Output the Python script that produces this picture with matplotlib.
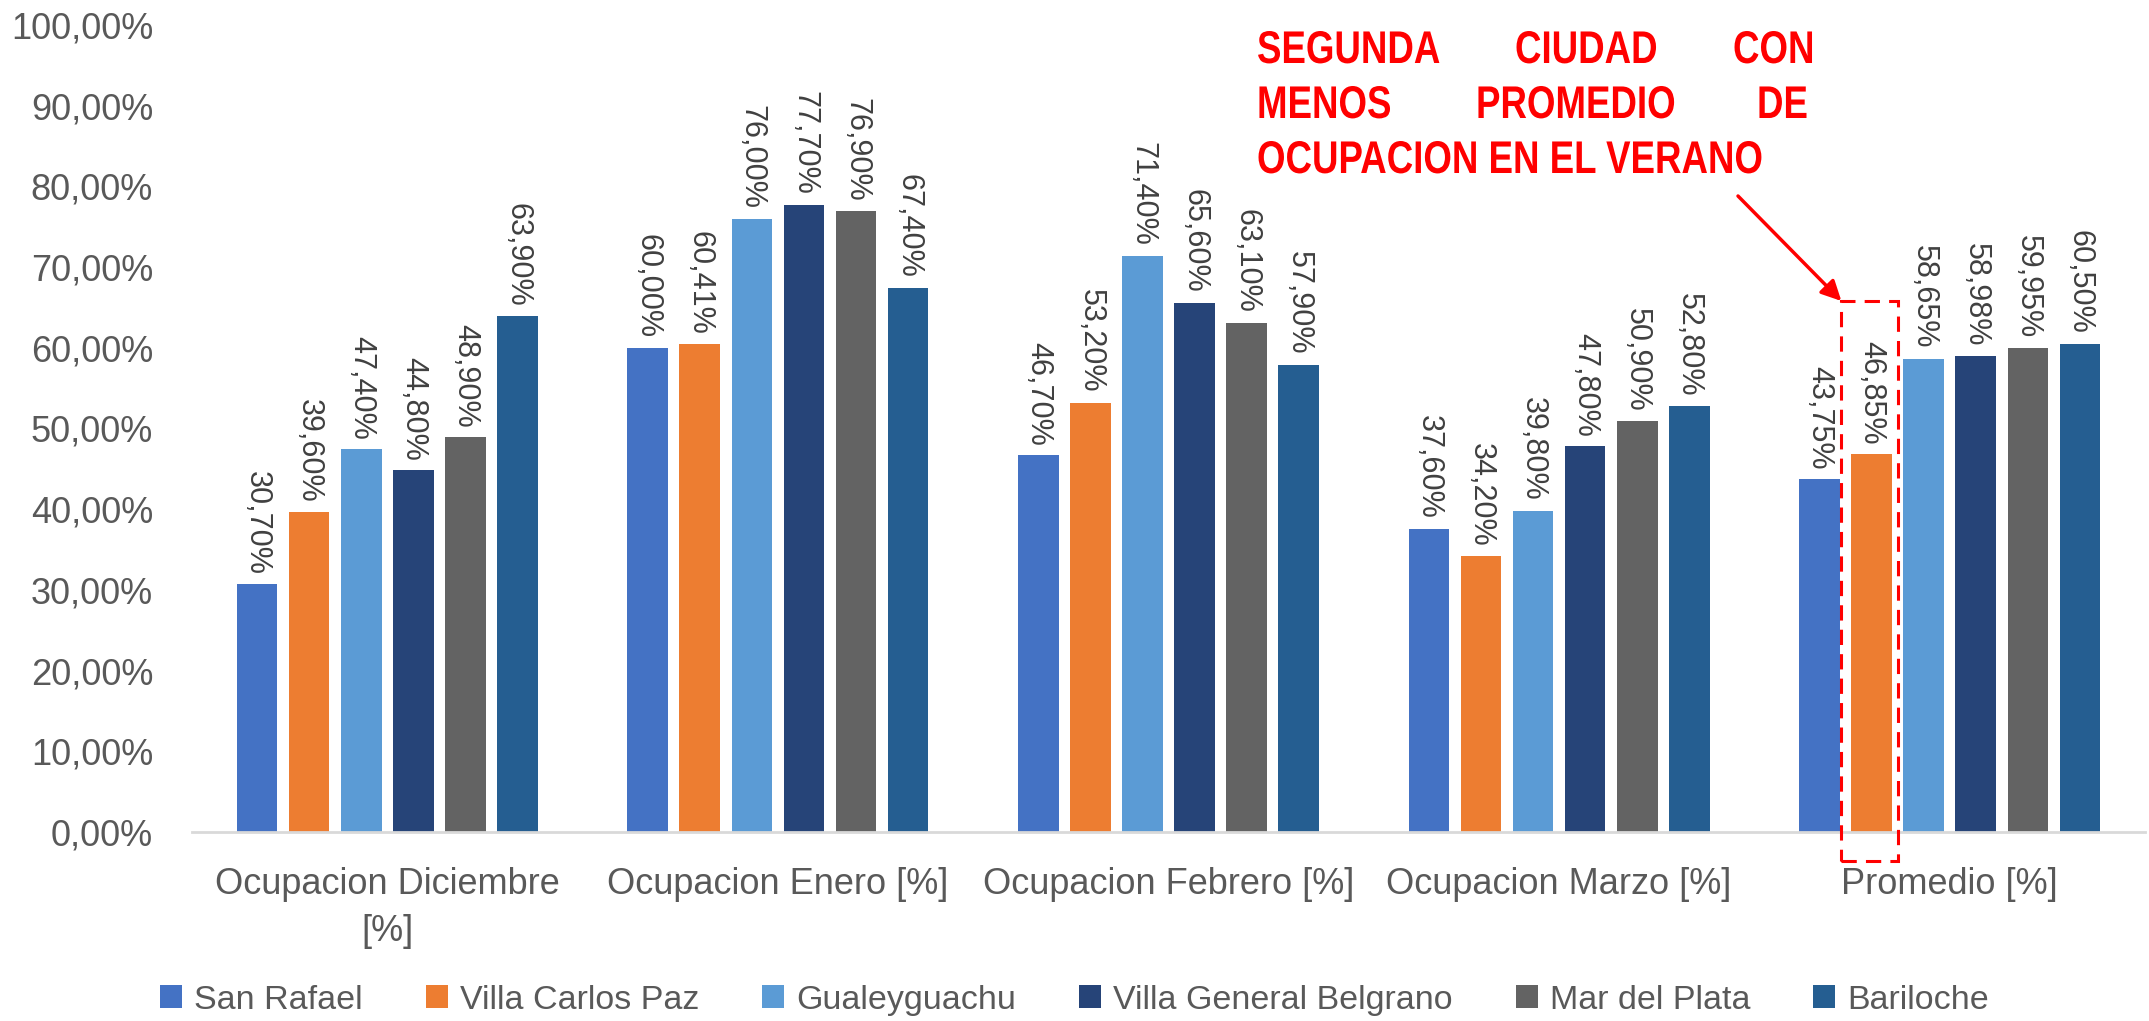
import matplotlib.pyplot as plt
import numpy as np
from matplotlib.patches import Patch, Rectangle
from matplotlib.ticker import FuncFormatter
from matplotlib.patheffects import AbstractPathEffect
from matplotlib.transforms import Affine2D

plt.rcParams['font.family'] = ['Liberation Sans', 'DejaVu Sans']

categories = ['Ocupacion Diciembre\n[%]', 'Ocupacion Enero [%]', 'Ocupacion Febrero [%]',
              'Ocupacion Marzo [%]', 'Promedio [%]']
cities = ['San Rafael', 'Villa Carlos Paz', 'Gualeyguachu', 'Villa General Belgrano',
          'Mar del Plata', 'Bariloche']
san_rafael = [30.70, 60.00, 46.70, 37.60, 43.75]
carlos_paz = [39.60, 60.41, 53.20, 34.20, 46.85]
gualeyguachu = [47.40, 76.00, 71.40, 39.80, 58.65]
general_belgrano = [44.80, 77.70, 65.60, 47.80, 58.98]
mar_del_plata = [48.90, 76.90, 63.10, 50.90, 59.95]
bariloche = [63.90, 67.40, 57.90, 52.80, 60.50]
series = [san_rafael, carlos_paz, gualeyguachu, general_belgrano, mar_del_plata, bariloche]
colors = ['#4472C4', '#ED7D31', '#5B9BD5', '#264478', '#636363', '#255E91']


class Condense(AbstractPathEffect):
    # squeeze glyphs horizontally, like a narrow bold face
    def __init__(self, sx):
        super().__init__()
        self.sx = sx

    def draw_path(self, renderer, gc, tpath, affine, rgbFace=None):
        renderer.draw_path(gc, tpath, Affine2D().scale(self.sx, 1) + affine, rgbFace)


fig = plt.figure(figsize=(21.49, 10.21), dpi=100)
ax = fig.add_axes([192 / 2149, 1 - 832 / 1021, 1953 / 2149, 807 / 1021])

x = np.arange(len(categories))
slot = 0.8 / len(series)
width = slot * 0.78
for i, (vals, c) in enumerate(zip(series, colors)):
    pos = x + (i - 2.5) * slot
    bars = ax.bar(pos, vals, width, color=c, linewidth=0)
    for b, v in zip(bars, vals):
        ax.annotate(('%.2f%%' % v).replace('.', ','),
                    (b.get_x() + b.get_width() / 2, v),
                    xytext=(0, 7), textcoords='offset points',
                    rotation=-90, ha='center', va='bottom',
                    fontsize=22, color='#404040')

ax.set_xlim(-0.5, len(categories) - 0.5)
ax.set_ylim(0, 100)
ax.set_yticks(np.arange(0, 101, 10))
ax.yaxis.set_major_formatter(FuncFormatter(lambda v, p: ('%.2f%%' % v).replace('.', ',')))
ax.set_xticks(x)
ax.set_xticklabels(categories, fontsize=26, color='#595959', linespacing=1.45)
ax.tick_params(axis='y', length=0, labelsize=26, labelcolor='#595959', pad=28)
ax.tick_params(axis='x', length=0, pad=25)
for s in ['top', 'right', 'left']:
    ax.spines[s].set_visible(False)
ax.spines['bottom'].set_color('#D9D9D9')
ax.spines['bottom'].set_linewidth(2)

# highlighted bar: Villa Carlos Paz in Promedio
hx = x[-1] + (1 - 2.5) * slot
box_left = hx - slot * 0.58
box = Rectangle((box_left, -3.6), slot * 1.08, 69.4, fill=False,
                edgecolor='red', linestyle=(0, (5, 3)), linewidth=2.2,
                clip_on=False, zorder=5)
ax.add_patch(box)

# annotation text (justified lines)
red = '#FF0000'
H = 1021.0
W = 2149.0
lines = [
    (63, [('SEGUNDA', 1257), ('CIUDAD', 1515), ('CON', 1733)]),
    (118, [('MENOS', 1257), ('PROMEDIO', 1476), ('DE', 1757)]),
    (173, [('OCUPACION EN EL VERANO', 1257)]),
]
for yy, words in lines:
    for w, xx in words:
        fig.text(xx / W, 1 - yy / H, w, ha='left', va='baseline', color=red,
                 fontsize=33, fontweight='bold', path_effects=[Condense(0.8)])

ax.annotate('', xy=(box_left, 65.8), xycoords='data',
            xytext=(1738 / W, 1 - 196 / H), textcoords='figure fraction',
            arrowprops=dict(arrowstyle='-|>', color=red, lw=2.5,
                            mutation_scale=30, shrinkA=0, shrinkB=0))

handles = [Patch(facecolor=c, edgecolor='none') for c in colors]
fig.legend(handles, cities, loc='center', bbox_to_anchor=(0.5, 1 - 1000 / H),
           ncol=6, frameon=False, fontsize=24.5, labelcolor='#595959',
           handlelength=0.65, handleheight=0.65, handletextpad=0.35,
           columnspacing=1.85)

fig.savefig('out.png', dpi=100)
